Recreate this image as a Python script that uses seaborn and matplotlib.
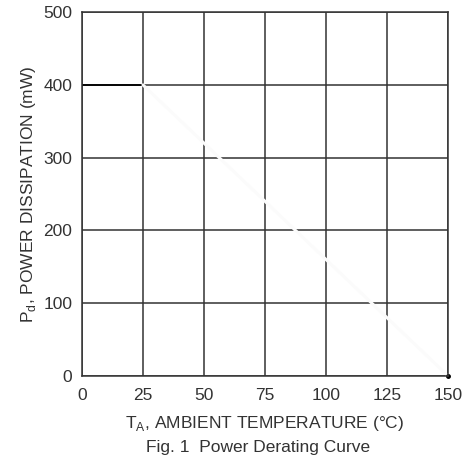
import matplotlib
matplotlib.use('Agg')
import matplotlib.pyplot as plt
import pandas as pd
import seaborn as sns

# derating curve: flat at 400 mW up to 25 C, then linear to 0 at 150 C
flat_temp = [0, 25]
flat_power = [400, 400]
slope_temp = [25, 150]
slope_power = [400, 0]

x_ticks = [0, 25, 50, 75, 100, 125, 150]
y_ticks = [0, 100, 200, 300, 400, 500]

sns.set_style('white')
plt.rcParams['font.family'] = ['Liberation Sans', 'DejaVu Sans']
plt.rcParams['mathtext.fontset'] = 'custom'
plt.rcParams['mathtext.rm'] = 'Liberation Sans'

fig = plt.figure(figsize=(4.71, 4.68), dpi=100)
ax = fig.add_axes([0.174, 0.197, 0.777, 0.777])

ax.set_xlim(0, 150)
ax.set_ylim(0, 500)
ax.set_xticks(x_ticks)
ax.set_yticks(y_ticks)
ax.grid(True, color='#333333', linewidth=1.1)
ax.set_axisbelow(True)
for s in ax.spines.values():
    s.set_color('#333333')
    s.set_linewidth(1.1)

txt = '#333333'
ax.tick_params(length=0, labelsize=12.5, colors=txt)
ax.tick_params(axis='x', pad=9)
ax.tick_params(axis='y', pad=7)

df_flat = pd.DataFrame({'t': flat_temp, 'p': flat_power})
df_slope = pd.DataFrame({'t': slope_temp, 'p': slope_power})
sns.lineplot(data=df_flat, x='t', y='p', ax=ax, color='black', linewidth=1.3)
sns.lineplot(data=df_slope, x='t', y='p', ax=ax, color='#fbfbfb', linewidth=2.2)
ax.plot([150], [0], marker='o', markersize=2.5, color='black', clip_on=False)

ax.set_xlabel(r'T$_\mathregular{A}$, AMBIENT TEMPERATURE (°C)', fontsize=12.5,
              color=txt, labelpad=8)
ax.set_ylabel(r'P$_\mathregular{d}$, POWER DISSIPATION (mW)', fontsize=12.5,
              color=txt, labelpad=4)
fig.text(0.548, 0.043, 'Fig. 1  Power Derating Curve', ha='center', va='center',
         fontsize=12.5, color=txt)

fig.savefig('out.png', dpi=100)
